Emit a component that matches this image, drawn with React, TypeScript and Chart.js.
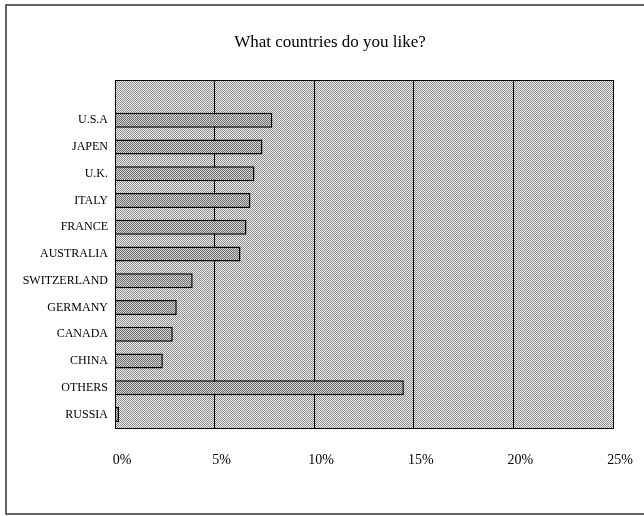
import React, { useEffect, useRef } from "react";
import { Chart, registerables } from "chart.js";

Chart.register(...registerables);

const titleText = "What countries do you like?";
const categories = ["", "U.S.A", "JAPEN", "U.K.", "ITALY", "FRANCE", "AUSTRALIA", "SWITZERLAND", "GERMANY", "CANADA", "CHINA", "OTHERS", "RUSSIA"];
const shares = [null, 7.9, 7.4, 7.0, 6.8, 6.6, 6.3, 3.9, 3.1, 2.9, 2.4, 14.5, 0.2];
const xTicks = [0, 5, 10, 15, 20, 25];

function makePattern(a: string, b: string): CanvasPattern | string {
  const c = document.createElement("canvas");
  c.width = 2;
  c.height = 2;
  const ctx = c.getContext("2d");
  if (!ctx) return a;
  ctx.fillStyle = a;
  ctx.fillRect(0, 0, 2, 2);
  ctx.fillStyle = b;
  ctx.fillRect(0, 0, 1, 1);
  ctx.fillRect(1, 1, 1, 1);
  const p = ctx.createPattern(c, "repeat");
  return p || a;
}

export default function App() {
  const ref = useRef<HTMLCanvasElement | null>(null);

  useEffect(() => {
    if (!ref.current) return;
    const plotBg = makePattern("#eeeeee", "#8e8e8e");
    const barBg = makePattern("#d2d2d2", "#707070");

    const framePlugin = {
      id: "frameAndBg",
      beforeDraw(chart: any) {
        const { ctx, chartArea } = chart;
        ctx.save();
        ctx.fillStyle = "#ffffff";
        ctx.fillRect(0, 0, chart.width, chart.height);
        ctx.strokeStyle = "#333333";
        ctx.lineWidth = 1.5;
        ctx.strokeRect(6, 5, 660, 509);
        ctx.fillStyle = plotBg as any;
        ctx.fillRect(chartArea.left, chartArea.top, chartArea.right - chartArea.left, chartArea.bottom - chartArea.top);
        ctx.restore();
      },
      afterDatasetsDraw(chart: any) {
        const { ctx, chartArea } = chart;
        ctx.save();
        ctx.strokeStyle = "#000000";
        ctx.lineWidth = 1;
        ctx.strokeRect(chartArea.left + 0.5, chartArea.top + 0.5, chartArea.right - chartArea.left, chartArea.bottom - chartArea.top);
        ctx.font = "17px 'Liberation Serif', serif";
        ctx.fillStyle = "#000000";
        ctx.textAlign = "center";
        ctx.textBaseline = "middle";
        ctx.fillText(titleText, 330, 43);
        ctx.restore();
      },
    };

    const chart = new Chart(ref.current, {
      type: "bar",
      data: {
        labels: categories,
        datasets: [
          {
            data: shares as any,
            backgroundColor: barBg as any,
            borderColor: "#000000",
            borderWidth: 1.5,
            barPercentage: 0.56,
            categoryPercentage: 1,
          },
        ],
      },
      options: {
        indexAxis: "y",
        animation: false,
        responsive: false,
        maintainAspectRatio: false,
        layout: { padding: { top: 80, right: 31, left: 0, bottom: 0 } },
        plugins: {
          legend: { display: false },
          title: { display: false },
          tooltip: { enabled: false },
        },
        scales: {
          x: {
            min: 0,
            max: 25,
            afterBuildTicks(scale: any) {
              scale.ticks = xTicks.map((v) => ({ value: v }));
            },
            afterFit(scale: any) {
              scale.height = 88;
              scale.paddingLeft = 0;
              scale.paddingRight = 0;
            },
            ticks: {
              callback: (v: any) => v + "%",
              color: "#000000",
              font: { family: "'Liberation Serif', serif", size: 14 },
              padding: 24,
              labelOffset: 7,
              maxRotation: 0,
            },
            grid: { color: "#000000", lineWidth: 1, drawTicks: false },
            border: { color: "#000000", width: 1 },
          },
          y: {
            afterFit(scale: any) {
              scale.width = 115;
              scale.paddingTop = 0;
              scale.paddingBottom = 0;
            },
            ticks: {
              color: "#000000",
              font: { family: "'Liberation Serif', serif", size: 12 },
              padding: 7,
              autoSkip: false,
            },
            grid: { display: false, drawTicks: false },
            border: { color: "#000000", width: 1 },
          },
        },
      },
      plugins: [framePlugin],
    });
    return () => chart.destroy();
  }, []);

  return (
    <div style={{ position: "absolute", left: 0, top: 0, width: 644, height: 516 }}>
      <canvas ref={ref} width={644} height={516} style={{ width: 644, height: 516 }} />
    </div>
  );
}
